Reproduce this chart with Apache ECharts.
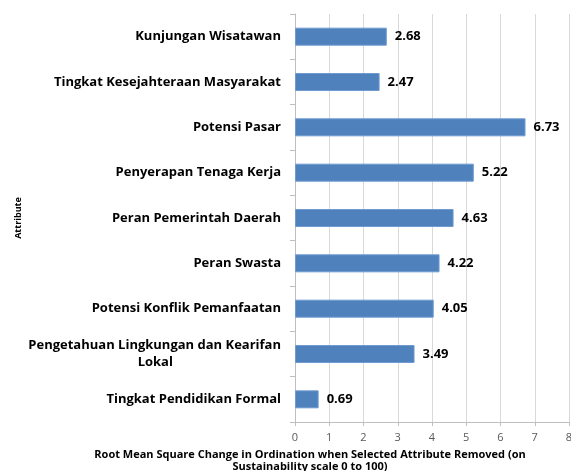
<!DOCTYPE html>
<html>
  <head>
    <meta charset="utf-8" />
    <title>Attribute RMS</title>
    <script src="https://cdn.jsdelivr.net/npm/echarts@6/dist/echarts.min.js"></script>
    <style>
      html, body { margin: 0; padding: 0; background: #fff; }
      #chart { width: 571px; height: 471px; }
    </style>
  </head>
  <body>
    <div id="chart"></div>
    <script type="text/javascript">
      // data, top to bottom
      var categories = [
        "Kunjungan Wisatawan",
        "Tingkat Kesejahteraan Masyarakat",
        "Potensi Pasar",
        "Penyerapan Tenaga Kerja",
        "Peran Pemerintah Daerah",
        "Peran Swasta",
        "Potensi Konflik Pemanfaatan",
        "Pengetahuan Lingkungan dan Kearifan\nLokal                                ",
        "Tingkat Pendidikan Formal"
      ];
      var values = [2.68, 2.47, 6.73, 5.22, 4.63, 4.22, 4.05, 3.49, 0.69];
      var xTicks = [0, 8, 1]; // min, max, interval

      var font = "'Open Sans', 'Noto Sans', sans-serif";

      var myChart = echarts.init(document.getElementById("chart"));
      var options = {
        animation: false,
        title: {
          text: "Root Mean Square Change in Ordination when Selected Attribute Removed (on\nSustainability scale 0 to 100)",
          left: 305,
          top: 444,
          textAlign: "center",
          textStyle: {
            fontFamily: font,
            fontSize: 11,
            fontWeight: "bold",
            color: "#000",
            lineHeight: 12
          }
        },
        grid: { left: 295, right: 2, top: 14, bottom: 49, outerBoundsMode: "none" },
        xAxis: {
          type: "value",
          min: xTicks[0],
          max: xTicks[1],
          interval: xTicks[2],
          axisLine: { show: true, lineStyle: { color: "#bfbfbf" } },
          axisTick: { show: true, length: 4, lineStyle: { color: "#bfbfbf" } },
          axisLabel: { color: "#595959", fontFamily: font, fontSize: 11, margin: 10 },
          splitLine: { show: true, lineStyle: { color: "#d9d9d9" } }
        },
        yAxis: {
          type: "category",
          data: categories,
          inverse: true,
          name: "Attribute",
          nameLocation: "middle",
          nameRotate: 90,
          nameGap: 272,
          nameTextStyle: { fontFamily: font, fontSize: 9, fontWeight: "bold", color: "#000" },
          axisLine: { show: true, lineStyle: { color: "#bfbfbf" } },
          axisTick: { show: true, length: 5, lineStyle: { color: "#bfbfbf" } },
          axisLabel: {
            fontFamily: font,
            fontSize: 13,
            fontWeight: "bold",
            color: "#000",
            margin: 14,
            lineHeight: 17
          }
        },
        series: [
          {
            type: "bar",
            data: values,
            barWidth: 18,
            itemStyle: { color: "#4f81bd", borderColor: "#6f9bd0", borderWidth: 1 },
            label: {
              show: true,
              position: "right",
              distance: 8,
              fontFamily: font,
              fontSize: 13,
              fontWeight: "bold",
              color: "#000"
            }
          }
        ]
      };
      myChart.setOption(options);
    </script>
  </body>
</html>
